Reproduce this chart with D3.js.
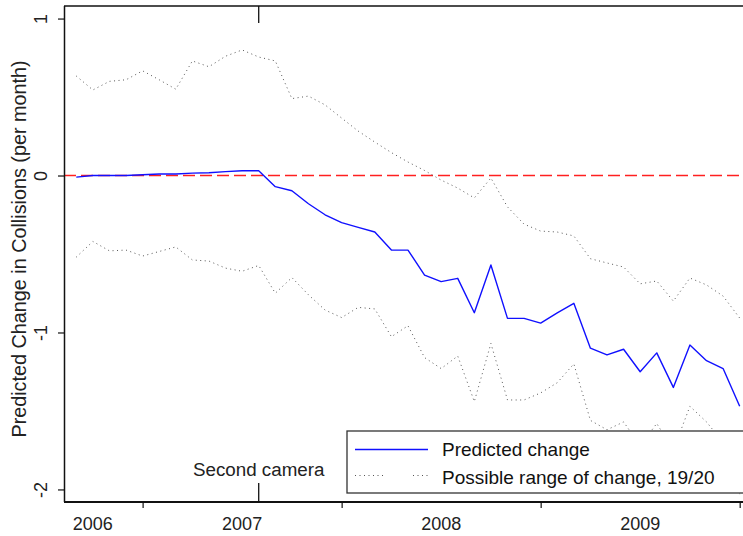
<!DOCTYPE html>
<html>
<head>
<meta charset="utf-8">
<script src="https://cdn.jsdelivr.net/npm/d3@7"></script>
<style>
  html, body { margin: 0; padding: 0; background: #fff; }
  svg { display: block; font-family: Arial, "Liberation Sans", sans-serif; }
</style>
</head>
<body>
<div id="chart"></div>
<script>
"use strict";

// monthly observations, Sep 2006 .. Jan 2010
const months = [
    "2006-09", "2006-10", "2006-11", "2006-12",
    "2007-01", "2007-02", "2007-03", "2007-04", "2007-05", "2007-06",
    "2007-07", "2007-08", "2007-09", "2007-10", "2007-11", "2007-12",
    "2008-01", "2008-02", "2008-03", "2008-04", "2008-05", "2008-06",
    "2008-07", "2008-08", "2008-09", "2008-10", "2008-11", "2008-12",
    "2009-01", "2009-02", "2009-03", "2009-04", "2009-05", "2009-06",
    "2009-07", "2009-08", "2009-09", "2009-10", "2009-11", "2009-12",
    "2010-01"
];
const predicted = [
    -0.01, 0, 0, 0,
    0.005, 0.01, 0.01, 0.015, 0.018, 0.025, 0.03, 0.03,
    -0.071, -0.097, -0.18, -0.25, -0.30, -0.33, -0.36, -0.475, -0.475, -0.634, -0.676, -0.655,
    -0.874, -0.57, -0.91, -0.91, -0.94, -0.875, -0.814, -1.10, -1.143, -1.107, -1.25, -1.13,
    -1.35, -1.08, -1.18, -1.23,
    -1.47
];
const upper = [
    0.634, 0.545, 0.6, 0.61,
    0.667, 0.61, 0.55, 0.73, 0.693, 0.76, 0.80, 0.755,
    0.73, 0.49, 0.506, 0.45, 0.366, 0.283, 0.213, 0.146, 0.086, 0.032, -0.029, -0.08,
    -0.143, -0.016, -0.2, -0.31, -0.354, -0.36, -0.385, -0.53, -0.557, -0.583, -0.69, -0.672,
    -0.8, -0.653, -0.697, -0.768,
    -0.908
];
const lower = [
    -0.52, -0.42, -0.48, -0.475,
    -0.513, -0.484, -0.455, -0.538, -0.545, -0.59, -0.61, -0.573,
    -0.75, -0.65, -0.76, -0.857, -0.905, -0.84, -0.85, -1.027, -0.957, -1.16, -1.23, -1.15,
    -1.44, -1.07, -1.43, -1.43, -1.385, -1.32, -1.20, -1.56, -1.62, -1.57, -1.72, -1.58,
    -1.75, -1.47, -1.57, -1.70,
    -2.03
];

const yTicks = [-2, -1, 0, 1];
const yearTicks = ["2007-01", "2008-01", "2009-01", "2010-01"];
const yearLabels = ["2006", "2007", "2008", "2009"];
const yearLabelAt = ["2006-10", "2007-07", "2008-07", "2009-07"];
const cameraMonth = "2007-08";
const cameraLabel = "Second camera";
const legendLabels = ["Predicted change", "Possible range of change, 19/20"];
const yTitle = "Predicted Change in Collisions (per month)";

const W = 743, H = 536;
const margin = { top: 6, right: 0, bottom: 34, left: 64 };

// month index counted from Jan 2006
const monthIndex = s => {
    const [yy, mm] = s.split("-").map(Number);
    return (yy - 2006) * 12 + (mm - 1);
};

const data = months.map((m, i) => ({
    t : monthIndex(m),
    p : predicted[i],
    hi: upper[i],
    lo: lower[i]
}));

const xScale = d3.scaleLinear()
                 .domain([7.26, 48.2])
                 .range([margin.left, W - margin.right]);
const yScale = d3.scaleLinear()
                 .domain([-2.08, 1.08])
                 .range([H - margin.bottom, margin.top]);

const svg = d3.select("#chart").append("svg")
              .attr("width", W)
              .attr("height", H);

svg.append("defs").append("clipPath")
   .attr("id", "plotClip")
   .append("rect")
   .attr("x", margin.left)
   .attr("y", margin.top)
   .attr("width", W - margin.left)
   .attr("height", H - margin.bottom - margin.top);

const plot = svg.append("g").attr("clip-path", "url(#plotClip)");

// zero reference
plot.append("line")
    .attr("x1", margin.left)
    .attr("x2", W)
    .attr("y1", yScale(0))
    .attr("y2", yScale(0))
    .attr("stroke", "#ff2020")
    .attr("stroke-width", 1.6)
    .attr("stroke-dasharray", "12,5");

const lineOf = key => d3.line()
                        .x(d => xScale(d.t))
                        .y(d => yScale(d[key]));

["hi", "lo"].forEach(k => {
    plot.append("path")
        .datum(data)
        .attr("fill", "none")
        .attr("stroke", "#555")
        .attr("stroke-width", 1)
        .attr("stroke-dasharray", "1,3.5")
        .attr("d", lineOf(k));
});

plot.append("path")
    .datum(data)
    .attr("fill", "none")
    .attr("stroke", "#1010ff")
    .attr("stroke-width", 1.4)
    .attr("stroke-linejoin", "round")
    .attr("d", lineOf("p"));

// camera marker and label
const camX = xScale(monthIndex(cameraMonth));
svg.append("line")
   .attr("x1", camX).attr("x2", camX)
   .attr("y1", margin.top).attr("y2", margin.top + 17)
   .attr("stroke", "#111").attr("stroke-width", 1.3);
svg.append("line")
   .attr("x1", camX).attr("x2", camX)
   .attr("y1", H - margin.bottom - 19).attr("y2", H - margin.bottom)
   .attr("stroke", "#111").attr("stroke-width", 1.3);
svg.append("text")
   .attr("x", camX)
   .attr("y", 476)
   .attr("text-anchor", "middle")
   .attr("font-size", "18.8px")
   .attr("fill", "#222")
   .text(cameraLabel);

// legend
const legend = svg.append("g").attr("transform", "translate(347, 431)");
legend.append("rect")
      .attr("width", 420)
      .attr("height", 62)
      .attr("fill", "#fff")
      .attr("stroke", "#333")
      .attr("stroke-width", 1.3);
legend.append("line")
      .attr("x1", 8).attr("x2", 81)
      .attr("y1", 18.5).attr("y2", 18.5)
      .attr("stroke", "#1010ff").attr("stroke-width", 1.4);
[[8, 36], [66, 81]].forEach(([a, b]) => {
    legend.append("line")
          .attr("x1", a).attr("x2", b)
          .attr("y1", 44.5).attr("y2", 44.5)
          .attr("stroke", "#555").attr("stroke-width", 1)
          .attr("stroke-dasharray", "1,3.5");
});
legend.selectAll("text.lab")
      .data(legendLabels)
      .enter().append("text")
      .attr("class", "lab")
      .attr("x", 95)
      .attr("y", (d, i) => 25 + i * 28)
      .attr("font-size", "19px")
      .attr("fill", "#111")
      .text(d => d);

// frame
svg.append("line")
   .attr("x1", margin.left).attr("x2", W)
   .attr("y1", margin.top).attr("y2", margin.top)
   .attr("stroke", "#111").attr("stroke-width", 1.6);

const yAxis = svg.append("g")
                 .attr("transform", `translate(${margin.left}, 0)`)
                 .call(d3.axisLeft(yScale)
                         .tickValues(yTicks)
                         .tickSize(6)
                         .tickPadding(0)
                         .tickFormat(d => String(d)));
yAxis.select(".domain").attr("stroke", "#111").attr("stroke-width", 1.5)
     .attr("d", `M0.5,${margin.top}V${H - margin.bottom}`);
yAxis.selectAll(".tick line").attr("stroke", "#111").attr("stroke-width", 1.2);
yAxis.selectAll(".tick text")
     .attr("font-size", "18px")
     .attr("font-family", "Arial, 'Liberation Sans', sans-serif")
     .attr("fill", "#222")
     .attr("text-anchor", "middle")
     .attr("dy", null)
     .attr("x", null)
     .attr("transform", "translate(-17, 0) rotate(-90)");

const xAxis = svg.append("g")
                 .attr("transform", `translate(0, ${H - margin.bottom})`)
                 .call(d3.axisBottom(xScale)
                         .tickValues(yearTicks.map(monthIndex))
                         .tickSize(6)
                         .tickFormat(""));
xAxis.select(".domain").attr("stroke", "#111").attr("stroke-width", 2.2)
     .attr("d", `M${margin.left},0H${W}`);
xAxis.selectAll(".tick line").attr("stroke", "#111").attr("stroke-width", 1.2);

svg.selectAll("text.year")
   .data(yearLabels)
   .enter().append("text")
   .attr("class", "year")
   .attr("x", (d, i) => xScale(monthIndex(yearLabelAt[i])))
   .attr("y", 530)
   .attr("text-anchor", "middle")
   .attr("font-size", "18px")
   .attr("fill", "#222")
   .text(d => d);

svg.append("text")
   .attr("transform", `translate(26, 249) rotate(-90)`)
   .attr("text-anchor", "middle")
   .attr("font-size", "19.8px")
   .attr("fill", "#222")
   .text(yTitle);
</script>
</body>
</html>
